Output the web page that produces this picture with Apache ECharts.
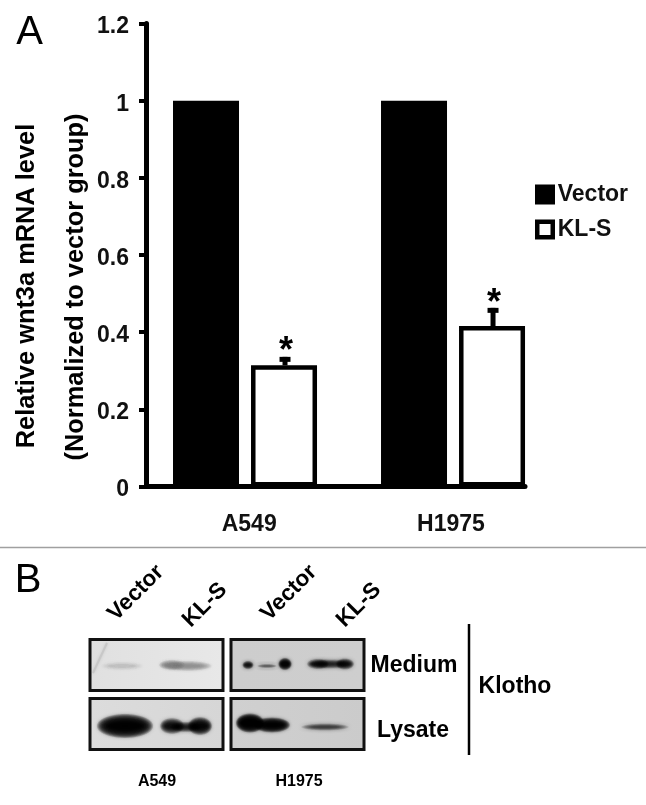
<!DOCTYPE html>
<html lang="en" style="height: 100%">
  <head>
    <meta charset="utf-8" />
  </head>
  <body style="height: 100%; margin: 0; background: #fff">
    <div id="container" style="width: 646px; height: 805px"></div>

    <script src="https://cdn.jsdelivr.net/npm/echarts@6/dist/echarts.min.js"></script>
    <script type="text/javascript">
      const groups = ["A549", "H1975"];
      const groupPos = [1, 2];
      const labelPos = [1.02, 1.99];
      const vectorValues = [1, 1];
      const klsValues = [0.314, 0.416];
      const klsErrorTop = [0.336, 0.463];
      const klsStarAt = [0.338, 0.463];

      const font = "Liberation Sans, Arial, sans-serif";
      var myChart = echarts.init(document.getElementById("container"), null, {
        renderer: "canvas",
      });

      // text helper for everything that is not an axis or legend
      function label(text, x, y, size, opts) {
        opts = opts || {};
        return {
          type: "text",
          x: x,
          y: y,
          rotation: opts.rotation || 0,
          z: 20,
          style: {
            text: text,
            fill: "#000",
            font: (opts.weight || "bold") + " " + size + "px " + font,
            align: "center",
            verticalAlign: "middle",
          },
        };
      }

      // blot band: stacked see-through ellipses so the edge fades out
      function band(cx, cy, rx, ry, color, strength) {
        const layers = [];
        const steps = 12;
        for (let k = 0; k < steps; k++) {
          const t = 1 - k / steps;
          layers.push({
            type: "ellipse",
            z: 11,
            shape: { cx: cx, cy: cy, rx: rx * (0.5 + 0.5 * t), ry: ry * (0.15 + 0.85 * t) },
            style: { fill: color, opacity: strength, shadowBlur: 3, shadowColor: color },
          });
        }
        return layers;
      }

      function panel(x, y, w, h, top, bottom) {
        return [
          {
            type: "rect",
            z: 10,
            shape: { x: x, y: y, width: w, height: h },
            style: {
              fill: new echarts.graphic.LinearGradient(0, 0, 1, 0, [
                { offset: 0, color: top },
                { offset: 1, color: bottom },
              ]),
            },
          },
          {
            type: "rect",
            z: 15,
            shape: { x: x, y: y, width: w, height: h },
            style: { fill: "none", stroke: "#111", lineWidth: 3 },
          },
        ];
      }

      const blots = [].concat(
        panel(90, 639.5, 133, 51, "#e0e0e0", "#e8e8e8"),
        panel(90, 698.5, 133, 51, "#dcdcdc", "#d6d6d6"),
        panel(231, 639.5, 133, 51, "#cdcdcd", "#cecece"),
        panel(231, 698.5, 133, 51, "#d0d0d0", "#cbcbcb"),
        [
          {
            type: "line",
            z: 11,
            shape: { x1: 93, y1: 673, x2: 107, y2: 643 },
            style: { stroke: "#c8c8c8", lineWidth: 2, shadowBlur: 3, shadowColor: "#c8c8c8" },
          },
        ],
        // A549 medium
        band(122, 666, 21, 4, "#a0a0a0", 0.035),
        band(172, 665, 13, 5, "#707070", 0.07),
        band(188, 666, 24, 5, "#707070", 0.06),
        // A549 lysate
        band(125, 726, 28, 12, "#000", 0.17),
        band(172, 726, 12, 8, "#000", 0.1),
        band(186, 727, 16, 5, "#000", 0.08),
        band(200, 726, 12, 9, "#000", 0.13),
        // H1975 medium
        band(248, 665, 5.5, 4, "#000", 0.1),
        band(267, 666, 10, 2, "#000", 0.04),
        band(285, 664, 6.5, 6, "#000", 0.15),
        band(318, 664, 11, 5, "#000", 0.08),
        band(330, 664, 20, 4.5, "#000", 0.07),
        band(345, 664, 9, 5.5, "#000", 0.09),
        // H1975 lysate
        band(250, 723, 14, 9.5, "#000", 0.2),
        band(272, 725, 18, 7.5, "#000", 0.16),
        band(325, 727, 24, 3.5, "#000", 0.05)
      );

      const texts = [
        label("A", 29.5, 33, 40, { weight: "normal" }),
        label("B", 28, 581, 40, { weight: "normal" }),
        label("Relative wnt3a mRNA level", 27, 286, 25.4, { rotation: Math.PI / 2 }),
        label("(Normalized to vector group)", 76, 287, 25.4, { rotation: Math.PI / 2 }),
        label("Vector", 136, 593, 22.5, { rotation: Math.PI / 4 }),
        label("KL-S", 205, 605, 22.5, { rotation: Math.PI / 4 }),
        label("Vector", 289, 593, 22.5, { rotation: Math.PI / 4 }),
        label("KL-S", 359, 605, 22.5, { rotation: Math.PI / 4 }),
        label("Medium", 414, 666, 23),
        label("Lysate", 413, 731, 23),
        label("Klotho", 515, 687, 23),
        label("A549", 157, 782, 16),
        label("H1975", 299, 782, 16),
        {
          type: "line",
          z: 20,
          shape: { x1: 469, y1: 624, x2: 469, y2: 755 },
          style: { stroke: "#000", lineWidth: 2.5 },
        },
        {
          type: "line",
          z: 20,
          shape: { x1: 0, y1: 547.5, x2: 646, y2: 547.5 },
          style: { stroke: "#a0a0a0", lineWidth: 1.5 },
        },
      ];

      var option = {
        animation: false,
        backgroundColor: "#fff",
        grid: { left: 146, top: 23.5, width: 379, height: 463 },
        xAxis: {
          type: "value",
          min: 0.524,
          max: 2.346,
          splitLine: { show: false },
          axisTick: { show: false },
          axisLine: { show: true, onZero: false, lineStyle: { color: "#000", width: 5 } },
          axisLabel: {
            customValues: labelPos,
            margin: 27,
            color: "#111",
            fontFamily: font,
            fontWeight: "bold",
            fontSize: 23,
            formatter: function (v) {
              return groups[Math.round(v) - 1];
            },
          },
        },
        yAxis: {
          type: "value",
          min: 0,
          max: 1.2,
          interval: 0.2,
          splitLine: { show: false },
          axisLine: { show: true, lineStyle: { color: "#000", width: 5 } },
          axisTick: { show: true, length: 7, lineStyle: { color: "#000", width: 4 } },
          axisLabel: {
            margin: 17,
            verticalAlign: "top",
            lineHeight: 7,
            color: "#111",
            fontFamily: font,
            fontWeight: "bold",
            fontSize: 23,
          },
        },
        legend: {
          left: 535,
          top: 183,
          padding: 0,
          orient: "vertical",
          itemWidth: 15.5,
          itemHeight: 15.5,
          itemGap: 12,
          icon: "rect",
          data: [
            { name: "Vector", itemStyle: { borderWidth: 4.5 } },
            { name: "KL-S", itemStyle: { borderWidth: 4.5 } },
          ],
          textStyle: {
            color: "#111",
            fontFamily: font,
            fontWeight: "bold",
            fontSize: 23,
          },
        },
        series: [
          {
            name: "Vector",
            type: "bar",
            barWidth: 66,
            barGap: "18.2%",
            itemStyle: { color: "#000", borderColor: "#000", borderWidth: 5 },
            data: groupPos.map((x, i) => [x, vectorValues[i]]),
          },
          {
            name: "KL-S",
            type: "bar",
            barWidth: 66,
            barGap: "18.2%",
            itemStyle: { color: "#fff", borderColor: "#000", borderWidth: 4.5 },
            data: groupPos.map((x, i) => [x, klsValues[i]]),
          },
          {
            // error bars and stars sit over the KL-S bars
            type: "custom",
            z: 3,
            silent: true,
            renderItem: function (params, api) {
              const top = api.coord([api.value(0), api.value(2)]);
              const base = api.coord([api.value(0), api.value(1)]);
              const star = api.coord([api.value(0), api.value(3)]);
              const x = top[0] + 40;
              return {
                type: "group",
                children: [
                  {
                    type: "rect",
                    shape: { x: x - 2.5, y: top[1], width: 5, height: base[1] - top[1] },
                    style: { fill: "#000" },
                  },
                  {
                    type: "rect",
                    shape: { x: x - 5.5, y: top[1], width: 11, height: 5 },
                    style: { fill: "#000" },
                  },
                  {
                    type: "text",
                    x: x + 1,
                    y: star[1] - 4,
                    style: {
                      text: "*",
                      fill: "#000",
                      font: "bold 36px " + font,
                      align: "center",
                      verticalAlign: "middle",
                    },
                  },
                ],
              };
            },
            data: groupPos.map((x, i) => [x, klsValues[i], klsErrorTop[i], klsStarAt[i]]),
          },
        ],
        graphic: { elements: blots.concat(texts) },
      };

      myChart.setOption(option);
      window.addEventListener("resize", myChart.resize);
    </script>
  </body>
</html>
